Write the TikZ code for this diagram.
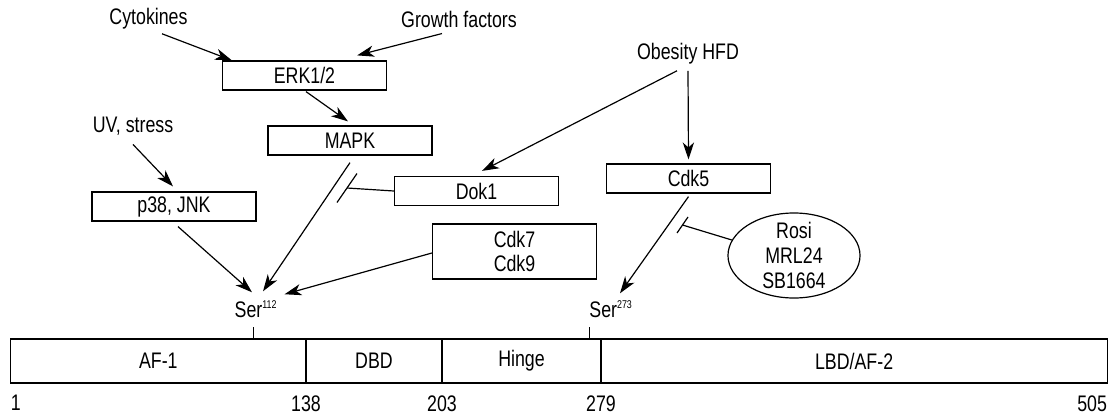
\documentclass[tikz,border=0pt]{standalone}
\usepackage{fontspec}
\setmainfont{Liberation Sans}[FakeStretch=0.79]
\usetikzlibrary{arrows.meta, positioning, calc, shapes.geometric}

\tikzset{
  txt/.style={inner sep=0pt, font=\fontsize{16}{18}\selectfont},
  kinase/.style={txt, draw, line width=0.85pt, minimum width=4.1cm, minimum height=0.725cm},
  segbox/.style={txt, draw, line width=0.85pt, minimum height=1.1cm, outer sep=0pt},
  arr/.style={-{Stealth[length=12pt, width=8pt, inset=3.5pt]}, line width=0.85pt},
  inhib/.style={line width=0.85pt},
}

\begin{document}
\begin{tikzpicture}[x=0.025cm, y=-0.025cm]
  \useasboundingbox (0,0) rectangle (1112,415);

  % Stimuli
  \node[txt] (cyto) at (148.5,19) {Cytokines};
  \node[txt] (growth) at (459,19) {Growth factors};
  \node[txt] (obesity) at (688,54) {Obesity HFD};
  \node[txt] (uv) at (133,126) {UV, stress};

  % Kinases
  \node[kinase] (erk) at (304.5,75.5) {ERK1/2};
  \node[kinase] (mapk) at (350,140.5) {MAPK};
  \node[kinase] (p38) at (174,206.5) {p38, JNK};
  \node[kinase] (dok) at (476.5,191) {Dok1};
  \node[kinase] (cdk5) at (688.5,178.5) {Cdk5};
  \node[kinase, minimum height=1.375cm, align=center, font=\fontsize{16}{16.5}\selectfont] (cdk79) at (514.5,251.5) {Cdk7\\Cdk9};

  % Ligands
  \node[txt, draw, ellipse, line width=0.85pt, inner ysep=-5pt, minimum width=3.3cm, minimum height=2.125cm, align=center, font=\fontsize{16}{17.8}\selectfont] (rosi) at (794,255.5) {Rosi\\MRL24\\SB1664};

  % Domains
  \node[segbox, minimum width=7.38cm, anchor=north west] (af1) at (10.7,339) {AF-1};
  \node[segbox, minimum width=3.4cm, right=0pt of af1] (dbd) {DBD};
  \node[segbox, minimum width=3.975cm, right=0pt of dbd] (hinge) {Hinge};
  \node[segbox, minimum width=12.65cm, right=0pt of hinge] (lbd) {LBD/AF-2};

  % Residue numbers
  \node[txt, below right=0.3cm and 0cm of af1.south west] (n1) {1};
  \node[txt, below=0.3cm of af1.south east] (n138) {138};
  \node[txt, below=0.3cm of dbd.south east] (n203) {203};
  \node[txt, below=0.3cm of hinge.south east] (n279) {279};
  \node[txt, below left=0.3cm and 0cm of lbd.south east] (n505) {505};

  % Sites
  \node[txt] (ser112) at (256,309) {Ser\textsuperscript{\footnotesize 112}};
  \node[txt] (ser273) at (611,309) {Ser\textsuperscript{\footnotesize 273}};
  \coordinate (t112) at (253,339);
  \coordinate (t273) at (589,339);
  \draw[line width=0.6pt] (t112) -- ++(0,-12);
  \draw[line width=0.6pt] (t273) -- ++(0,-12);

  % Activation
  \draw[arr] ($(cyto.south)+(13.5,4)$) -- ($(erk.north west)+(10,0)$);
  \draw[arr] ($(growth.south)+(-17,6)$) -- ($(erk.north east)+(-30,-5)$);
  \draw[arr] ($(erk.south)+(1.5,1)$) -- ($(mapk.north)+(-2,-4)$);
  \draw[arr] ($(uv.south)+(0,9)$) -- ($(p38.north)+(-1,-5)$);
  \draw[arr] ($(obesity.south)+(-11,6)$) -- ($(dok.north)+(5.5,-5)$);
  \draw[arr] ($(obesity.south)+(0,6)$) -- ($(cdk5.north)+(0,-4)$);
  \draw[arr] ($(p38.south)+(4,5)$) -- ($(ser112.north)+(-4,-8)$);
  \draw[arr] ($(mapk.south)+(0,7)$) -- ($(ser112.north)+(7,-9)$);
  \draw[arr] ($(cdk79.west)+(0,1.5)$) -- ($(ser112.north east)+(7,-6)$);
  \draw[arr] ($(cdk5.south)+(0,3)$) -- ($(ser273.north)+(9,-7)$);

  % Inhibition
  \coordinate (dokbar) at (347,188);
  \draw[inhib] (dok.west) -- (dokbar);
  \draw[inhib] ($(dokbar)+(10,-14.5)$) -- ($(dokbar)+(-10,14.5)$);
  \coordinate (cdkbar) at (682.5,225);
  \draw[inhib] (rosi.166) -- (cdkbar);
  \draw[inhib] ($(cdkbar)+(5.5,-8)$) -- ($(cdkbar)+(-5.5,8)$);
\end{tikzpicture}
\end{document}
